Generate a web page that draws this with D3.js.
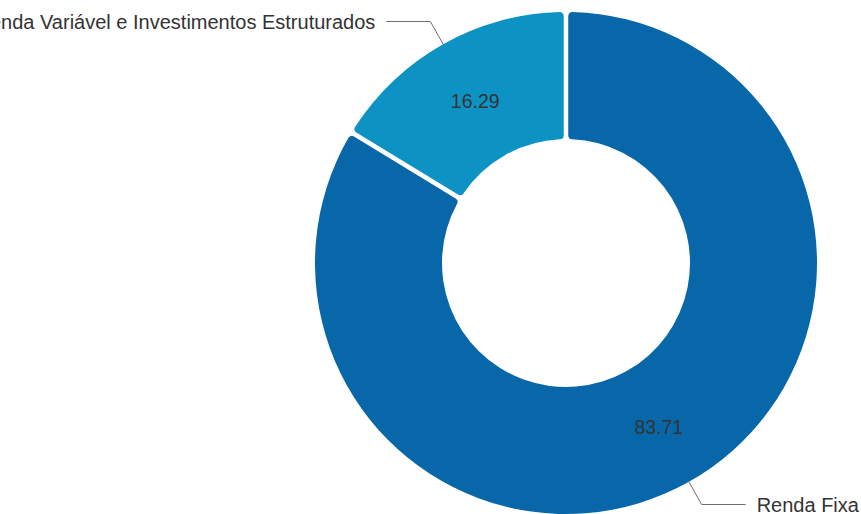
<!DOCTYPE html>
<html>
<head>
  <meta charset="utf-8">
  <title>Donut</title>
  <script src="https://d3js.org/d3.v7.min.js"></script>
  <style>
    body { margin: 0; background: #fff; }
    text { font-family: "Liberation Sans", Arial, sans-serif; fill: #333; }
  </style>
</head>
<body>
  <script>
    var categories = ['Renda Fixa', 'Renda Variável e Investimentos Estruturados'];
    var values = [83.71, 16.29];
    var colors = ['#0867a8', '#0d93c3'];

    var w = 861, h = 514;
    var cx = 566, cy = 263;
    var outerR = 251, innerR = 124;

    var data = categories.map(function(c, i) {
      return {name: c, value: values[i], color: colors[i]};
    });

    var pie = d3.pie()
      .sort(null)
      .value(function(d) { return d.value; });

    var arc = d3.arc()
      .innerRadius(innerR)
      .outerRadius(outerR)
      .cornerRadius(4)
      .padRadius(outerR)
      .padAngle(4.5 / outerR);

    var svg = d3.select('body').append('svg')
        .attr('width', w)
        .attr('height', h)
      .append('g')
        .attr('transform', 'translate(' + [cx, cy] + ')');

    var arcs = pie(data);

    svg.selectAll('.slice')
      .data(arcs)
      .enter().append('path')
        .attr('class', 'slice')
        .attr('d', arc)
        .attr('fill', function(d) { return d.data.color; });

    // valores dentro das fatias
    var midR = (innerR + outerR) / 2;
    svg.selectAll('.val')
      .data(arcs)
      .enter().append('text')
        .attr('class', 'val')
        .attr('x', function(d) { var a = (d.startAngle + d.endAngle) / 2; return Math.sin(a) * midR + 1; })
        .attr('y', function(d) { var a = (d.startAngle + d.endAngle) / 2; return -Math.cos(a) * midR + 1; })
        .attr('text-anchor', 'middle')
        .attr('dominant-baseline', 'central')
        .style('font-size', '19.5px')
        .text(function(d) { return d.data.value.toFixed(2); });

    // rótulos externos com linhas guia
    var len1 = 26, len2 = 44, gap = 11;
    arcs.forEach(function(d) {
      var a = (d.startAngle + d.endAngle) / 2;
      var sx = Math.sin(a), sy = -Math.cos(a);
      var p0 = [sx * outerR, sy * outerR];
      var p1 = [sx * (outerR + len1), sy * (outerR + len1)];
      var dir = sx >= 0 ? 1 : -1;
      var p2 = [p1[0] + dir * len2, p1[1]];
      svg.append('path')
        .attr('d', d3.line()([p0, p1, p2]))
        .attr('fill', 'none')
        .attr('stroke', '#707070')
        .attr('stroke-width', 1);
      svg.append('text')
        .attr('x', p2[0] + dir * gap)
        .attr('y', p2[1])
        .attr('text-anchor', dir > 0 ? 'start' : 'end')
        .attr('dominant-baseline', 'central')
        .style('font-size', '20px')
        .text(d.data.name);
    });
  </script>
</body>
</html>
